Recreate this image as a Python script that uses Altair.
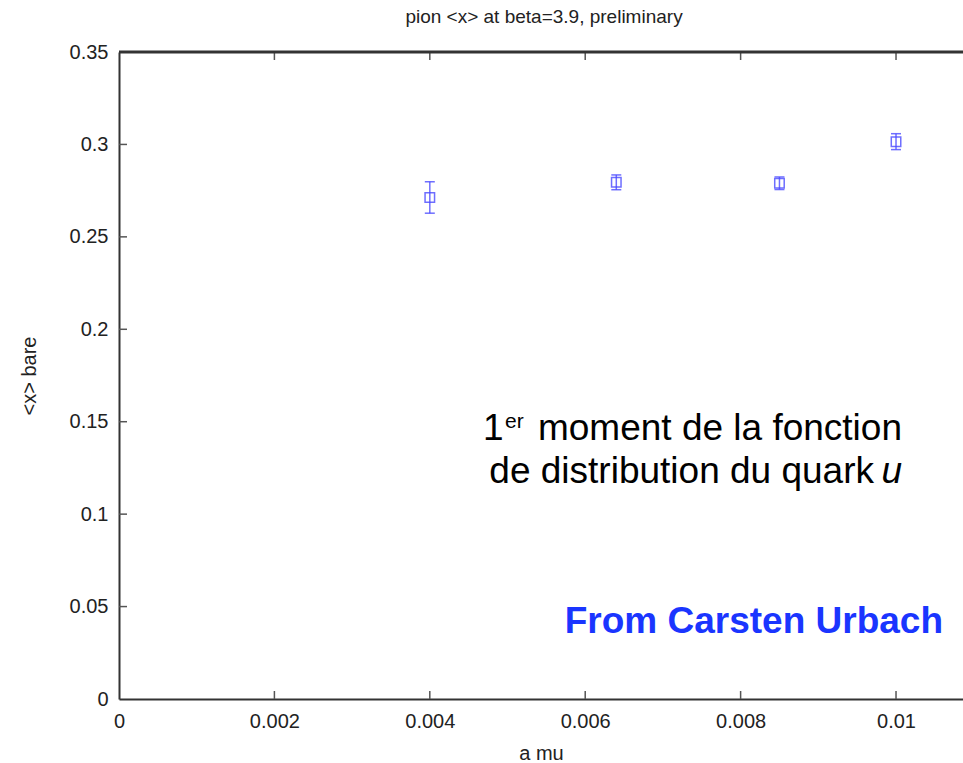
import altair as alt
import pandas as pd

# ---- data ----
a_mu = [0.004, 0.0064, 0.0085, 0.01]
x_bare = [0.2713, 0.2795, 0.2790, 0.3015]
x_err = [0.0085, 0.0040, 0.0034, 0.0043]

x_ticks = [0, 0.002, 0.004, 0.006, 0.008, 0.01]
y_ticks = [0, 0.05, 0.1, 0.15, 0.2, 0.25, 0.3, 0.35]

title_text = "pion <x> at beta=3.9, preliminary"
x_title = "a mu"
y_title = "<x> bare"

W, H = 844, 647
FONT = "Liberation Sans"
MARK = "#4b4bff"
FRAME = "#333333"

df = pd.DataFrame({"a_mu": a_mu, "x": x_bare, "err": x_err})
df["lo"] = df["x"] - df["err"]
df["hi"] = df["x"] + df["err"]

xs = alt.Scale(domain=[0, 0.010862], nice=False, zero=False)
ys = alt.Scale(domain=[0, 0.35], nice=False, zero=False)

x_axis = alt.Axis(
    title=x_title, values=x_ticks, format="~g", ticks=False, grid=False,
    domain=True, domainColor=FRAME, domainWidth=2, labelFlush=False,
    labelFont=FONT, labelFontSize=20, labelColor="#222222", labelPadding=12,
    titleFont=FONT, titleFontSize=20, titleFontWeight="normal",
    titleColor="#222222", titlePadding=12)
y_axis = alt.Axis(
    title=y_title, values=y_ticks, format="~g", ticks=False, grid=False,
    domain=True, domainColor=FRAME, domainWidth=2, labelFlush=False,
    labelFont=FONT, labelFontSize=20, labelColor="#222222", labelPadding=11,
    titleFont=FONT, titleFontSize=20, titleFontWeight="normal",
    titleColor="#222222", titlePadding=30)

base = alt.Chart(df)

points = base.mark_point(shape="square", filled=False, size=90, strokeWidth=1.5,
                         color=MARK, opacity=0.8).encode(
    x=alt.X("a_mu:Q", scale=xs, axis=x_axis),
    y=alt.Y("x:Q", scale=ys, axis=y_axis),
)

bars = base.mark_rule(color=MARK, strokeWidth=1.5, opacity=0.8).encode(
    x=alt.X("a_mu:Q", scale=xs, axis=x_axis),
    y=alt.Y("lo:Q", scale=ys, axis=y_axis),
    y2="hi:Q",
)
cap_lo = base.mark_tick(color=MARK, thickness=1.5, size=10, orient="horizontal",
                        opacity=0.8).encode(
    x=alt.X("a_mu:Q", scale=xs, axis=x_axis),
    y=alt.Y("lo:Q", scale=ys, axis=y_axis),
)
cap_hi = base.mark_tick(color=MARK, thickness=1.5, size=10, orient="horizontal",
                        opacity=0.8).encode(
    x=alt.X("a_mu:Q", scale=xs, axis=x_axis),
    y=alt.Y("hi:Q", scale=ys, axis=y_axis),
)

# frame: top border line
one = pd.DataFrame({"k": [0]})
top_line = alt.Chart(one).mark_rule(color=FRAME, strokeWidth=3).encode(
    x=alt.value(0), x2=alt.value(W), y=alt.value(0))

# inward ticks
xt = pd.DataFrame({"t": x_ticks[1:]})
yt = pd.DataFrame({"t": y_ticks[1:-1]})
tick_bottom = alt.Chart(xt).mark_rule(color="#555555", strokeWidth=1.5).encode(
    x=alt.X("t:Q", scale=xs, axis=x_axis), y=alt.value(H), y2=alt.value(H - 8))
tick_top = alt.Chart(xt).mark_rule(color="#555555", strokeWidth=1.5).encode(
    x=alt.X("t:Q", scale=xs, axis=x_axis), y=alt.value(0), y2=alt.value(8))
tick_left = alt.Chart(yt).mark_rule(color="#555555", strokeWidth=1.5).encode(
    y=alt.Y("t:Q", scale=ys, axis=y_axis), x=alt.value(0), x2=alt.value(8))

# annotations
def txt(s, x, y, size, align="left", style="normal", weight="normal", color="#000000"):
    return alt.Chart(one).mark_text(
        text=s, align=align, baseline="alphabetic", font=FONT, fontSize=size,
        fontStyle=style, fontWeight=weight, color=color).encode(
        x=alt.value(x), y=alt.value(y))

ann = [
    txt("1", 364, 388, 37),
    txt("er", 386, 376, 21),
    txt("moment de la fonction", 783, 388, 37, align="right"),
    txt("de distribution du quark", 755, 431, 37, align="right"),
    txt("u", 783, 431, 37, align="right", style="italic"),
    txt("From Carsten Urbach", 824, 581, 37, align="right", weight="bold", color="#1a35ff"),
]

chart = alt.layer(points, bars, cap_lo, cap_hi, tick_bottom, tick_top, tick_left,
                  top_line, *ann).properties(
    width=W, height=H,
    padding={"left": 119, "top": 52, "right": 0, "bottom": 64},
    autosize=alt.AutoSizeParams(type="none"),
    background="white",
    title=alt.TitleParams(title_text, font=FONT, fontSize=19, fontWeight="normal",
                          color="#222222", offset=15, anchor="middle", dx=3),
).configure_view(stroke=None)

chart.save("out.html", embed_options={"renderer": "svg", "actions": False})
